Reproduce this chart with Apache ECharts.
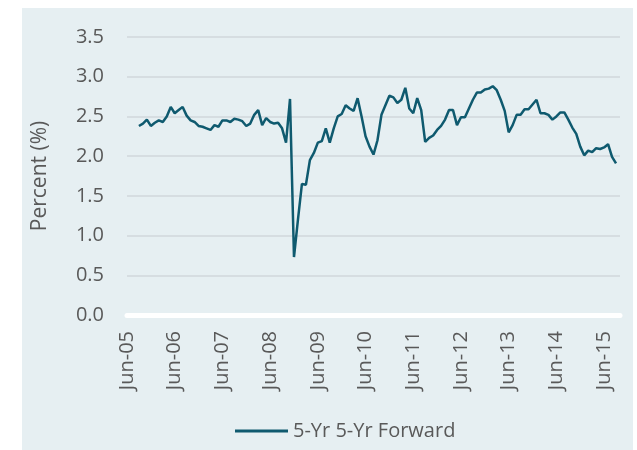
<!DOCTYPE html>
<html>
<head>
<meta charset="utf-8">
<script src="https://cdn.jsdelivr.net/npm/echarts@6/dist/echarts.min.js"></script>
<style>
  html, body { margin: 0; padding: 0; background: #fff; }
  #chart { width: 637px; height: 450px; }
</style>
</head>
<body>
<div id="chart"></div>
<script>
// month labels, Jun-05 .. Oct-15
const monthNames = ["Jan", "Feb", "Mar", "Apr", "May", "Jun", "Jul", "Aug", "Sep", "Oct", "Nov", "Dec"];
const startYear = 2005;
const startMonth = 5; // June
const monthCount = 125;

const categories = [];
for (let i = 0; i < monthCount; i++) {
  const m = (startMonth + i) % 12;
  const y = startYear + Math.floor((startMonth + i) / 12);
  categories.push(monthNames[m] + "-" + String(y % 100).padStart(2, "0"));
}

const yTicks = [0.0, 0.5, 1.0, 1.5, 2.0, 2.5, 3.0, 3.5];

// 5-Yr 5-Yr Forward, monthly (first three months blank)
const forward5y5y = [
  null, null, null, 2.38, 2.41, 2.46, 2.38, 2.42, 2.45, 2.43,
  2.50, 2.62, 2.54, 2.58, 2.62, 2.51, 2.45, 2.43, 2.38, 2.37,
  2.35, 2.33, 2.39, 2.37, 2.45, 2.45, 2.43, 2.47, 2.46, 2.44,
  2.38, 2.41, 2.52, 2.58, 2.39, 2.48, 2.43, 2.41, 2.42, 2.35,
  2.17, 2.72, 0.73, 1.20, 1.65, 1.64, 1.95, 2.04, 2.17, 2.19,
  2.35, 2.17, 2.35, 2.50, 2.53, 2.64, 2.60, 2.57, 2.73, 2.50,
  2.25, 2.12, 2.02, 2.20, 2.52, 2.64, 2.76, 2.74, 2.67, 2.71,
  2.86, 2.60, 2.54, 2.73, 2.58, 2.18, 2.23, 2.26, 2.33, 2.38,
  2.46, 2.58, 2.58, 2.39, 2.49, 2.49, 2.60, 2.71, 2.80, 2.80,
  2.84, 2.85, 2.88, 2.83, 2.71, 2.57, 2.30, 2.39, 2.52, 2.52,
  2.59, 2.59, 2.65, 2.71, 2.54, 2.54, 2.52, 2.46, 2.50, 2.55,
  2.55, 2.46, 2.36, 2.28, 2.12, 2.01, 2.07, 2.05, 2.10, 2.09,
  2.11, 2.15, 1.99, 1.91, null
];

const textColor = "#595959";
const fontFamily = "Open Sans";

const chart = echarts.init(document.getElementById("chart"));

const option = {
  backgroundColor: "#fff",
  animation: false,
  textStyle: { fontFamily: fontFamily },
  graphic: [
    {
      type: "rect",
      z: -10,
      silent: true,
      shape: { x: 22, y: 8, width: 611, height: 442 },
      style: { fill: "#e6eff2" },
    },
  ],
  grid: {
    left: 127,
    right: 17,
    top: 37,
    bottom: 135,
    containLabel: false,
  },
  legend: {
    data: ["5-Yr 5-Yr Forward"],
    left: 230,
    top: 416,
    icon: "rect",
    itemWidth: 53,
    itemHeight: 3,
    itemGap: 5,
    textStyle: { color: textColor, fontSize: 20, fontFamily: fontFamily },
  },
  xAxis: {
    type: "category",
    data: categories,
    boundaryGap: false,
    axisLine: {
      show: true,
      lineStyle: { color: "#ffffff", width: 5 },
    },
    axisTick: { show: false },
    axisLabel: {
      interval: 11,
      rotate: 90,
      margin: 16,
      color: textColor,
      fontSize: 20,
      fontFamily: fontFamily,
    },
    splitLine: { show: false },
  },
  yAxis: {
    type: "value",
    min: yTicks[0],
    max: yTicks[yTicks.length - 1],
    interval: 0.5,
    name: "Percent (%)",
    nameLocation: "middle",
    nameGap: 76,
    nameRotate: 90,
    nameTextStyle: { color: textColor, fontSize: 21, fontFamily: fontFamily },
    axisLine: { show: false },
    axisTick: { show: false },
    axisLabel: {
      margin: 23,
      color: textColor,
      fontSize: 20,
      fontFamily: fontFamily,
      formatter: (v) => v.toFixed(1),
    },
    splitLine: {
      show: true,
      lineStyle: { color: "#d6dde1", width: 2 },
    },
  },
  series: [
    {
      name: "5-Yr 5-Yr Forward",
      type: "line",
      data: forward5y5y,
      symbol: "none",
      connectNulls: false,
      lineStyle: { color: "#0f5a6f", width: 2.5 },
      itemStyle: { color: "#0f5a6f" },
    },
  ],
};

chart.setOption(option);
</script>
</body>
</html>
